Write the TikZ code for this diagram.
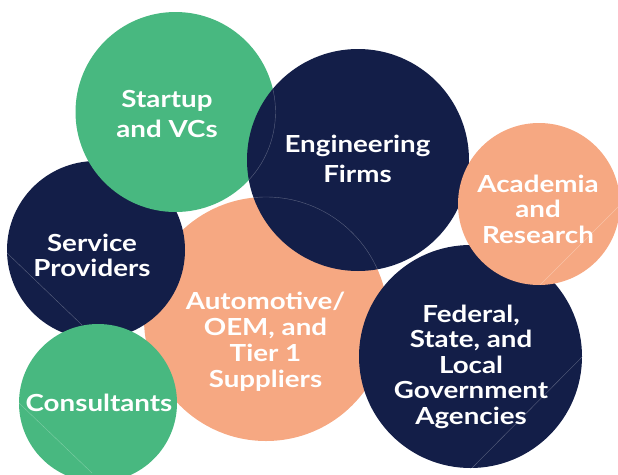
\documentclass[tikz,border=0pt]{standalone}
\usepackage{fontspec}
\setmainfont{Lato}[FakeStretch=1.18]
\definecolor{cgreen}{HTML}{48B880}
\definecolor{cnavy}{HTML}{131E48}
\definecolor{csalmon}{HTML}{F6A882}
\begin{document}
\begin{tikzpicture}[x=1pt,y=-1pt,
  bubble/.style={circle,minimum size=#1,inner sep=0pt,outer sep=0pt},
  lbl/.style={text=white,align=center,font=\bfseries\fontsize{23.5}{#1}\selectfont,inner sep=0pt},
  hair/.style={line width=0.4pt,white,opacity=0.3}]
\useasboundingbox (0,0) rectangle (618,474);
\clip (0,0) rectangle (618,474);
% circles (drawing order = stacking order)
\node[bubble=244,fill=csalmon] (auto) at (266,319) {};
\node[bubble=178,fill=cnavy] (serv) at (96,250) {};
\node[bubble=200,fill=cgreen] (start) at (175.5,112) {};
\node[bubble=222,fill=cnavy] (eng) at (358,160) {};
\node[bubble=158,fill=cgreen] (cons) at (98,403) {};
\node[bubble=223,fill=cnavy] (fed) at (470.5,356.5) {};
\node[bubble=162,fill=csalmon] (acad) at (539,204) {};
% faint hairlines
\begin{scope}
\clip (358,160) circle (111);
\draw[hair] (175.5,112) circle (100);
\draw[hair] (266,319) circle (122);
\end{scope}
\begin{scope}
\clip (96,250) circle (89);
\draw[hair] (7,253) -- (82,325);
\end{scope}
\begin{scope}
\clip (98,403) circle (79);
\draw[hair] (19,403) -- (92,473);
\end{scope}
\begin{scope}
\clip (539,204) circle (81);
\draw[hair] (620,205) -- (540,285);
\end{scope}
\begin{scope}
\clip (470.5,356.5) circle (111.5);
\draw[hair] (582,357) -- (472,468);
\end{scope}
% labels
\node[lbl=30] (tstart) at (167,116) {\strut Startup\\and VCs\strut};
\node[lbl=30] (teng) at (357.5,161) {\strut Engineering\\Firms\strut};
\node[lbl=25.5] (tacad) at (538,212.4) {\strut Academia\\and\\Research\strut};
\node[lbl=25] (tserv) at (92,258.5) {\strut Service\\Providers\strut};
\node[lbl=26] (tauto) at (265.5,342.8) {\strut Automotive/\\OEM, and\\Tier 1\\Suppliers\strut};
\node[lbl=25.5] (tfed) at (471,367.9) {\strut Federal,\\State, and\\Local\\Government\\Agencies\strut};
\node[lbl=26] (tcons) at (99,405.8) {\strut Consultants\strut};
\end{tikzpicture}
\end{document}
